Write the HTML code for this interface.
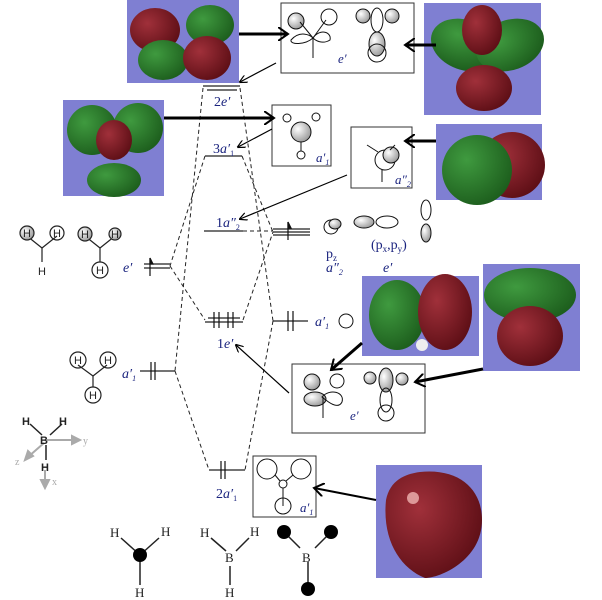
<!DOCTYPE html>
<html><head><meta charset="utf-8"><style>
body{margin:0;background:#fff}
svg{display:block}
text{font-family:"Liberation Serif",serif;fill:#222}
.it{font-style:italic}
.bl{fill:#1a237e}
.sans{font-family:"Liberation Sans",sans-serif}
</style></head><body>
<svg width="602" height="600" viewBox="0 0 602 600" xmlns="http://www.w3.org/2000/svg">
<defs>
<radialGradient id="gr" cx="35%" cy="35%" r="70%"><stop offset="0" stop-color="#3f9a3f"/><stop offset="1" stop-color="#1d5e1d"/></radialGradient>
<radialGradient id="rd" cx="35%" cy="35%" r="70%"><stop offset="0" stop-color="#a0303a"/><stop offset="1" stop-color="#5e0f16"/></radialGradient>
<radialGradient id="wh" cx="35%" cy="35%" r="70%"><stop offset="0" stop-color="#fff"/><stop offset="1" stop-color="#999"/></radialGradient>
<marker id="ah" markerWidth="8" markerHeight="8" refX="7" refY="4" orient="auto" markerUnits="userSpaceOnUse"><path d="M0,0 L8,4 L0,8" fill="none" stroke="#000" stroke-width="1.2"/></marker>
<marker id="ahb" markerWidth="12" markerHeight="14" refX="10" refY="7" orient="auto" markerUnits="userSpaceOnUse"><path d="M0,0 L10,7 L0,14" fill="none" stroke="#000" stroke-width="2"/></marker>
</defs>

<rect x="127" y="0" width="112" height="83" fill="#7f7fd2"/>
<ellipse cx="155" cy="30" rx="25" ry="22" fill="url(#rd)"/>
<ellipse cx="210" cy="25" rx="24" ry="20" fill="url(#gr)"/>
<ellipse cx="163" cy="60" rx="25" ry="20" fill="url(#gr)"/>
<ellipse cx="207" cy="58" rx="24" ry="22" fill="url(#rd)"/>

<rect x="424" y="3" width="117" height="112" fill="#7f7fd2"/>
<ellipse cx="465" cy="45" rx="35" ry="25" fill="url(#gr)" transform="rotate(20 465 45)"/>
<ellipse cx="510" cy="45" rx="35" ry="25" fill="url(#gr)" transform="rotate(-20 510 45)"/>
<ellipse cx="482" cy="30" rx="20" ry="25" fill="url(#rd)"/>
<ellipse cx="484" cy="88" rx="28" ry="23" fill="url(#rd)"/>

<rect x="63" y="100" width="101" height="96" fill="#7f7fd2"/>
<ellipse cx="92" cy="130" rx="25" ry="25" fill="url(#gr)"/>
<ellipse cx="138" cy="128" rx="25" ry="25" fill="url(#gr)"/>
<ellipse cx="114" cy="180" rx="27" ry="17" fill="url(#gr)"/>
<ellipse cx="114" cy="140" rx="18" ry="20" fill="url(#rd)"/>

<rect x="436" y="124" width="106" height="76" fill="#7f7fd2"/>
<circle cx="512" cy="165" r="33" fill="url(#rd)"/>
<circle cx="477" cy="170" r="35" fill="url(#gr)"/>

<rect x="362" y="276" width="117" height="80" fill="#7f7fd2"/>
<ellipse cx="397" cy="315" rx="28" ry="35" fill="url(#gr)"/>
<ellipse cx="445" cy="312" rx="27" ry="38" fill="url(#rd)"/>
<circle cx="422" cy="345" r="6" fill="#eee"/>

<rect x="483" y="264" width="97" height="107" fill="#7f7fd2"/>
<ellipse cx="530" cy="295" rx="46" ry="27" fill="url(#gr)"/>
<ellipse cx="530" cy="336" rx="33" ry="30" fill="url(#rd)"/>

<rect x="376" y="465" width="106" height="113" fill="#7f7fd2"/>
<path d="M420,472 C460,468 482,490 482,520 C482,560 440,578 425,578 C400,568 382,540 386,500 C390,480 405,474 420,472Z" fill="url(#rd)"/>
<circle cx="413" cy="498" r="6" fill="#d99"/>

<g fill="none" stroke="#333" stroke-width="1">
<rect x="281" y="3" width="133" height="70"/>
<rect x="272" y="105" width="59" height="61"/>
<rect x="351" y="127" width="61" height="61"/>
<rect x="292" y="364" width="133" height="69"/>
<rect x="253" y="456" width="63" height="61"/>
</g>
<g stroke="#111" fill="none" stroke-width="1">
<circle cx="296" cy="21" r="8" fill="url(#wh)"/><circle cx="329" cy="17" r="8"/>
<path d="M291,40 C300,30 310,35 313,38 C320,28 332,32 330,40 C322,45 315,40 313,38 C305,45 290,45 291,40Z"/>
<line x1="313" y1="38" x2="313" y2="58"/><line x1="300" y1="22" x2="313" y2="38"/><line x1="313" y1="38" x2="326" y2="20"/>
<circle cx="363" cy="16" r="7" fill="url(#wh)"/><circle cx="392" cy="16" r="7" fill="url(#wh)"/>
<ellipse cx="377" cy="20" rx="6" ry="12"/><ellipse cx="377" cy="44" rx="8" ry="12" fill="url(#wh)"/><circle cx="377" cy="53" r="9"/>
<circle cx="287" cy="118" r="4"/><circle cx="316" cy="117" r="4"/><circle cx="301" cy="132" r="10" fill="url(#wh)"/><circle cx="301" cy="155" r="4"/>
<line x1="301" y1="142" x2="301" y2="151"/>
<circle cx="385" cy="160" r="10"/><circle cx="391" cy="155" r="8" fill="url(#wh)"/>
<line x1="367" y1="145" x2="378" y2="152"/><line x1="395" y1="145" x2="390" y2="150"/><line x1="382" y1="170" x2="382" y2="182"/>
<circle cx="312" cy="382" r="8" fill="url(#wh)"/><circle cx="337" cy="381" r="7"/>
<ellipse cx="315" cy="399" rx="11" ry="7" fill="url(#wh)"/>
<path d="M322,397 C330,388 345,392 342,402 C338,410 328,402 322,397Z"/>
<line x1="323" y1="397" x2="323" y2="418"/>
<circle cx="370" cy="378" r="6" fill="url(#wh)"/><circle cx="402" cy="379" r="6" fill="url(#wh)"/>
<ellipse cx="386" cy="380" rx="7" ry="12" fill="url(#wh)"/><ellipse cx="386" cy="400" rx="6" ry="12"/><circle cx="386" cy="413" r="8"/>
<circle cx="267" cy="469" r="10"/><circle cx="301" cy="469" r="10"/><circle cx="283" cy="484" r="4"/><circle cx="283" cy="506" r="8"/>
<line x1="275" y1="475" x2="280" y2="481"/><line x1="293" y1="475" x2="286" y2="481"/><line x1="283" y1="488" x2="283" y2="506"/>
</g>
<g class="it bl" font-size="13">
<text x="338" y="63" class="it bl">e′</text>
<text x="316" y="162" class="it bl">a′<tspan font-size="8" dy="3">1</tspan></text>
<text x="395" y="184" class="it bl">a″<tspan font-size="8" dy="3">2</tspan></text>
<text x="350" y="420" class="it bl">e′</text>
<text x="300" y="512" class="it bl">a′<tspan font-size="8" dy="3">1</tspan></text>
</g>

<g stroke="#222" stroke-width="1.2">
<line x1="203" y1="86" x2="240" y2="86"/><line x1="207" y1="90" x2="237" y2="90"/>
<line x1="205" y1="156" x2="242" y2="156"/>
<line x1="204" y1="231" x2="243" y2="231"/>
<line x1="273" y1="229" x2="310" y2="229"/><line x1="273" y1="232" x2="310" y2="232"/><line x1="273" y1="235" x2="310" y2="235"/>
<line x1="144" y1="264" x2="170" y2="264"/><line x1="144" y1="268" x2="170" y2="268"/>
<line x1="205" y1="322" x2="243" y2="322"/><line x1="208" y1="318" x2="240" y2="318"/>
<line x1="273" y1="321" x2="308" y2="321"/>
<line x1="140" y1="371" x2="175" y2="371"/>
<line x1="209" y1="470" x2="245" y2="470"/>
</g>
<g stroke="#111" stroke-width="1.2" fill="#111">
<line x1="288" y1="240" x2="288" y2="222"/><path d="M288,222 l3,6 h-3z"/>
<line x1="150" y1="258" x2="150" y2="276"/><path d="M150,258 l3,6 h-3z"/>
<line x1="214" y1="312" x2="214" y2="328"/><line x1="219" y1="312" x2="219" y2="328"/>
<line x1="228" y1="312" x2="228" y2="328"/><line x1="233" y1="312" x2="233" y2="328"/>
<line x1="288" y1="311" x2="288" y2="331"/><line x1="293" y1="311" x2="293" y2="331"/>
<line x1="151" y1="362" x2="151" y2="380"/><line x1="155" y1="362" x2="155" y2="380"/>
<line x1="221" y1="461" x2="221" y2="479"/><line x1="225" y1="461" x2="225" y2="479"/>
</g>

<g stroke="#222" stroke-width="1" stroke-dasharray="4,3" fill="none">
<line x1="203" y1="88" x2="175" y2="371"/>
<line x1="240" y1="88" x2="273" y2="321"/>
<line x1="205" y1="156" x2="170" y2="266"/>
<line x1="242" y1="156" x2="273" y2="232"/>
<line x1="170" y1="266" x2="205" y2="320"/>
<line x1="243" y1="320" x2="273" y2="232"/>
<line x1="243" y1="231" x2="273" y2="231"/>
<line x1="175" y1="371" x2="209" y2="470"/>
<line x1="273" y1="321" x2="245" y2="470"/>
</g>

<g stroke="#000" fill="none">
<line x1="239" y1="34" x2="288" y2="34" stroke-width="3" marker-end="url(#ahb)"/>
<line x1="436" y1="45" x2="405" y2="45" stroke-width="3" marker-end="url(#ahb)"/>
<line x1="164" y1="118" x2="274" y2="118" stroke-width="3" marker-end="url(#ahb)"/>
<line x1="436" y1="141" x2="405" y2="141" stroke-width="3" marker-end="url(#ahb)"/>
<line x1="362" y1="343" x2="331" y2="370" stroke-width="3" marker-end="url(#ahb)"/>
<line x1="483" y1="369" x2="415" y2="382" stroke-width="3" marker-end="url(#ahb)"/>
<line x1="376" y1="500" x2="314" y2="488" stroke-width="2" marker-end="url(#ahb)"/>
<line x1="276" y1="63" x2="240" y2="82" stroke-width="1.2" marker-end="url(#ah)"/>
<line x1="272" y1="129" x2="238" y2="147" stroke-width="1.2" marker-end="url(#ah)"/>
<line x1="347" y1="175" x2="240" y2="219" stroke-width="1.2" marker-end="url(#ah)"/>
<line x1="289" y1="393" x2="236" y2="345" stroke-width="1.2" marker-end="url(#ah)"/>
</g>

<g class="bl" font-size="14">
<text x="214" y="106" class="bl">2<tspan class="it">e′</tspan></text>
<text x="213" y="153" class="bl">3<tspan class="it">a′</tspan><tspan font-size="8" dy="3">1</tspan></text>
<text x="216" y="227" class="bl">1<tspan class="it">a″</tspan><tspan font-size="8" dy="3">2</tspan></text>
<text x="123" y="272" class="it bl">e′</text>
<text x="217" y="348" class="bl">1<tspan class="it">e′</tspan></text>
<text x="315" y="326" class="it bl">a′<tspan font-size="8" dy="3">1</tspan></text>
<text x="122" y="378" class="it bl">a′<tspan font-size="8" dy="3">1</tspan></text>
<text x="216" y="498" class="bl">2<tspan class="it">a′</tspan><tspan font-size="8" dy="3">1</tspan></text>
<text x="326" y="258" class="bl">p<tspan font-size="9" dy="3">z</tspan></text>
<text x="326" y="272" class="it bl">a″<tspan font-size="8" dy="3">2</tspan></text>
<text x="371" y="249" class="bl">(p<tspan font-size="9" dy="3">x</tspan><tspan dy="-3">,p</tspan><tspan font-size="9" dy="3">y</tspan><tspan dy="-3">)</tspan></text>
<text x="383" y="272" class="it bl">e′</text>
</g>
<g stroke="#111" fill="none">
<circle cx="331" cy="227" r="7"/><ellipse cx="335" cy="224" rx="6" ry="5" fill="url(#wh)"/>
<ellipse cx="364" cy="222" rx="10" ry="6" fill="url(#wh)"/><ellipse cx="387" cy="222" rx="11" ry="6"/>
<ellipse cx="426" cy="210" rx="5" ry="10"/><ellipse cx="426" cy="233" rx="5" ry="9" fill="url(#wh)"/>
<circle cx="346" cy="321" r="7"/>
</g>

<!-- left H3 fragments -->
<g stroke="#222" fill="none" stroke-width="1.2">
<line x1="27" y1="236" x2="42" y2="248"/><line x1="57" y1="236" x2="42" y2="248"/><line x1="42" y1="248" x2="42" y2="262"/>
<circle cx="27" cy="233" r="7" fill="url(#wh)"/><circle cx="57" cy="233" r="7"/>
<line x1="85" y1="236" x2="100" y2="248"/><line x1="115" y1="236" x2="100" y2="248"/><line x1="100" y1="248" x2="100" y2="262"/>
<circle cx="85" cy="234" r="7" fill="url(#wh)"/><circle cx="115" cy="234" r="6" fill="url(#wh)"/><circle cx="100" cy="270" r="8"/>
<line x1="78" y1="265" x2="93" y2="276" transform="translate(0,100)"/><line x1="107" y1="265" x2="93" y2="276" transform="translate(0,100)"/><line x1="93" y1="376" x2="93" y2="387"/>
<circle cx="78" cy="360" r="8"/><circle cx="108" cy="360" r="8"/><circle cx="93" cy="395" r="8"/>
</g>
<g font-size="11" class="sans">
<text x="23" y="237" class="sans">H</text><text x="53" y="237" class="sans">H</text><text x="38" y="275" class="sans">H</text>
<text x="81" y="238" class="sans">H</text><text x="111" y="238" class="sans">H</text><text x="96" y="274" class="sans">H</text>
<text x="74" y="364" class="sans">H</text><text x="104" y="364" class="sans">H</text><text x="89" y="399" class="sans">H</text>
</g>

<g stroke="#aaa" stroke-width="2" fill="#aaa">
<line x1="47" y1="440" x2="76" y2="440"/><path d="M80,440 l-8,-4 v8z"/>
<line x1="44" y1="443" x2="28" y2="457"/><path d="M25,460 l3,-9 l5,5z"/>
<line x1="45" y1="470" x2="45" y2="484"/><path d="M45,488 l-4,-8 h8z"/>
</g>
<g stroke="#222" stroke-width="1.5"><line x1="30" y1="424" x2="42" y2="435"/><line x1="62" y1="424" x2="50" y2="435"/><line x1="46" y1="445" x2="46" y2="460"/></g>
<g class="sans" font-weight="bold" font-size="11">
<text x="22" y="425" class="sans">H</text><text x="59" y="425" class="sans">H</text><text x="40" y="444" class="sans">B</text><text x="41" y="471" class="sans">H</text>
</g>
<g class="sans" font-size="10"><text x="83" y="444" style="fill:#aaa">y</text><text x="15" y="465" style="fill:#aaa">z</text><text x="52" y="485" style="fill:#aaa">x</text></g>

<g stroke="#222" stroke-width="1.5">
<line x1="121" y1="538" x2="140" y2="555"/><line x1="159" y1="538" x2="140" y2="555"/><line x1="140" y1="555" x2="140" y2="585"/>
<line x1="211" y1="538" x2="226" y2="551"/><line x1="249" y1="538" x2="236" y2="551"/><line x1="230" y1="566" x2="230" y2="585"/>
<line x1="284" y1="532" x2="300" y2="548"/><line x1="331" y1="532" x2="315" y2="548"/><line x1="308" y1="562" x2="308" y2="585"/>
</g>
<circle cx="140" cy="555" r="7" fill="#000"/>
<circle cx="284" cy="532" r="7" fill="#000"/><circle cx="331" cy="532" r="7" fill="#000"/><circle cx="308" cy="589" r="7" fill="#000"/>
<g font-size="13">
<text x="110" y="537">H</text><text x="161" y="536">H</text><text x="135" y="597">H</text>
<text x="200" y="537">H</text><text x="250" y="536">H</text><text x="225" y="562">B</text><text x="225" y="597">H</text>
<text x="302" y="562">B</text>
</g>
</svg>
</body></html>
